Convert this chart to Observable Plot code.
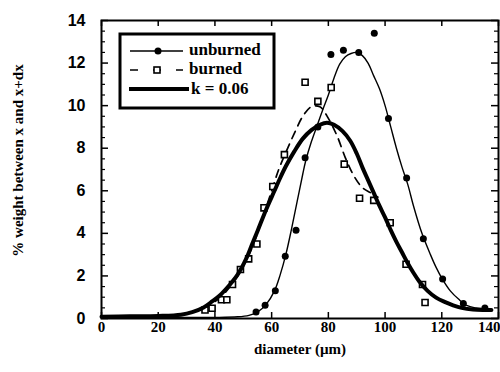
<!DOCTYPE html>
<html>
<head>
<meta charset="utf-8">
<script src="https://cdn.jsdelivr.net/npm/d3@7"></script>
<script src="https://cdn.jsdelivr.net/npm/@observablehq/plot@0.6"></script>
<style>
  html, body { margin: 0; padding: 0; background: #fff; }
  #chart { width: 500px; height: 372px; }
</style>
</head>
<body>
<div id="chart"></div>
<script>
// ---- data ----
const xTicks = [0, 20, 40, 60, 80, 100, 120, 140];
const yTicks = [0, 2, 4, 6, 8, 10, 12, 14];
const yMinorTicks = [0.5,1,1.5,2.5,3,3.5,4.5,5,5.5,6.5,7,7.5,8.5,9,9.5,10.5,11,11.5,12.5,13,13.5];

const xLabel = "diameter (µm)";
const yLabel = "% weight between x and x+dx";
const legendLabels = ["unburned", "burned", "k = 0.06"];

// unburned measured points (filled circles)
const unburnedX = [54.5, 57.7, 61.3, 64.8, 68.6, 71.8, 76.3, 80.9, 85.3, 90.7, 96.2, 101.2, 107.6, 113.5, 120.3, 127.6, 135.2];
const unburnedY = [0.3, 0.62, 1.3, 2.92, 4.15, 7.55, 9.0, 12.4, 12.6, 12.5, 13.4, 9.4, 6.6, 3.75, 1.85, 0.7, 0.49];

// burned measured points (open squares)
const burnedX = [36.5, 39.0, 42.3, 44.2, 46.2, 49.0, 51.9, 54.8, 57.3, 60.4, 64.5, 71.8, 76.3, 81.0, 85.6, 91.0, 96.0, 101.8, 107.4, 113.2, 114.1];
const burnedY = [0.4, 0.48, 0.88, 0.88, 1.6, 2.3, 2.8, 3.5, 5.2, 6.2, 7.7, 11.1, 10.2, 10.85, 7.25, 5.65, 5.55, 4.5, 2.55, 1.6, 0.75];

// unburned fitted curve (thin solid)
const unburnedFitX = [0, 20, 40, 48, 52, 55, 58, 61, 63, 65, 67, 69, 71, 72, 74, 76, 78, 80, 82, 84, 86, 88, 90, 92, 94, 96, 98, 100, 102, 104, 106, 108, 110, 113, 116, 118, 120, 123, 126, 129, 132, 135, 137.5];
const unburnedFitY = [0.05, 0.05, 0.05, 0.08, 0.15, 0.3, 0.65, 1.3, 2.05, 3.0, 4.2, 5.5, 6.8, 7.4, 8.3, 9.05, 9.8, 10.5, 11.3, 11.95, 12.3, 12.45, 12.5, 12.35, 12.0, 11.4, 10.8, 10.0, 9.0, 8.0, 7.1, 6.3, 5.3, 4.0, 3.0, 2.4, 1.9, 1.3, 0.9, 0.6, 0.5, 0.45, 0.4];

// burned fitted curve (dashed)
const burnedFitX = [36, 42, 48, 53, 57, 60, 62.5, 65, 68, 71, 74, 77, 80, 83, 86, 89, 92, 95, 97.5];
const burnedFitY = [0.45, 1.0, 2.0, 3.3, 4.8, 6.0, 7.0, 7.8, 8.7, 9.5, 9.95, 9.95, 9.4, 8.6, 7.55, 6.7, 6.15, 5.9, 5.7];

// model k = 0.06 (thick solid)
const modelX = [0, 10, 20, 28, 32, 36, 39, 42, 45, 48, 51, 53, 55, 58, 61, 63, 65, 68, 71, 74, 77, 79.5, 82, 85, 87.7, 90, 92, 94, 96, 98, 100, 102, 104, 106, 108, 110, 112, 115, 118, 121, 124, 127, 131, 135, 137.5];
const modelY = [0.08, 0.1, 0.12, 0.18, 0.3, 0.52, 0.8, 1.12, 1.55, 2.06, 2.8, 3.45, 4.1, 5.1, 6.0, 6.6, 7.15, 7.85, 8.45, 8.85, 9.1, 9.2, 9.1, 8.8, 8.35, 7.75, 7.1, 6.5, 5.9, 5.3, 4.75, 4.15, 3.6, 3.1, 2.6, 2.15, 1.75, 1.3, 0.98, 0.78, 0.62, 0.5, 0.42, 0.4, 0.4];

// ---- tables built from the arrays ----
const zip = (xs, ys) => xs.map((x, i) => ({x, y: ys[i]}));
const unburned = zip(unburnedX, unburnedY);
const burned = zip(burnedX, burnedY);
const unburnedFit = zip(unburnedFitX, unburnedFitY);
const burnedFit = zip(burnedFitX, burnedFitY);
const model = zip(modelX, modelY);

const serif = "'Liberation Serif', 'Times New Roman', serif";
const sans = "'Liberation Sans', Arial, sans-serif";
const xTicksInner = xTicks.slice(0, -1);
const xTickLast = xTicks.slice(-1);

const chart = Plot.plot({
  width: 500,
  height: 372,
  marginLeft: 101,
  marginRight: 2,
  marginTop: 20,
  marginBottom: 54,
  x: {domain: [0, 140], axis: null},
  y: {domain: [0, 14], axis: null},
  style: {background: "white", color: "black"},
  marks: [
    // inward ticks
    Plot.ruleY(yTicks, {y: d => d, x1: 0, x2: 0, insetRight: -7, stroke: "black", strokeWidth: 1.5}),
    Plot.ruleY(yMinorTicks, {y: d => d, x1: 0, x2: 0, insetRight: -4, stroke: "black", strokeWidth: 1.2}),
    Plot.ruleY(yTicks, {y: d => d, x1: 140, x2: 140, insetLeft: -7, stroke: "black", strokeWidth: 1.5}),
    Plot.ruleY(yMinorTicks, {y: d => d, x1: 140, x2: 140, insetLeft: -4, stroke: "black", strokeWidth: 1.2}),
    Plot.ruleX(xTicks, {x: d => d, y1: 14, y2: 14, insetBottom: -6, stroke: "black", strokeWidth: 1.5}),
    Plot.ruleX(xTicks, {x: d => d, y1: 0, y2: 0, insetTop: -6, stroke: "black", strokeWidth: 1.5}),
    // tick labels
    Plot.axisY({anchor: "left", ticks: yTicks, tickSize: 0, tickPadding: 16, label: null,
      fontSize: 16, fontWeight: "bold", fontFamily: sans}),
    Plot.text(xTicksInner, {x: d => d, frameAnchor: "bottom", dy: 13, text: d => String(d),
      fontSize: 15, fontWeight: "bold", fontFamily: serif}),
    Plot.text(xTickLast, {x: d => d, frameAnchor: "bottom", dy: 13, dx: 2, textAnchor: "end", text: d => String(d),
      fontSize: 15, fontWeight: "bold", fontFamily: serif}),
    // curves
    Plot.line(unburnedFit, {x: "x", y: "y", curve: "catmull-rom", stroke: "black", strokeWidth: 1.4}),
    Plot.line(burnedFit, {x: "x", y: "y", curve: "catmull-rom", stroke: "black", strokeWidth: 1.7, strokeDasharray: "8,6"}),
    Plot.dot(burned, {x: "x", y: "y", symbol: "square", r: 3.4, fill: "white", stroke: "black", strokeWidth: 1.6}),
    Plot.line(model, {x: "x", y: "y", curve: "catmull-rom", stroke: "black", strokeWidth: 4}),
    Plot.dot(unburned, {x: "x", y: "y", r: 3.5, fill: "black"}),
    Plot.frame({stroke: "black", strokeWidth: 2}),
    // axis titles
    Plot.text([xLabel], {frameAnchor: "bottom", dy: 35, text: d => d, fontSize: 15, fontWeight: "bold", fontFamily: serif}),
    Plot.text([yLabel], {frameAnchor: "left", dx: -83, dy: -9, rotate: -90, textAnchor: "middle", text: d => d,
      fontSize: 15, fontWeight: "bold", fontFamily: serif})
  ]
});

document.getElementById("chart").appendChild(chart);

// legend inside the frame
const svg = d3.select(chart);
const lg = svg.append("g").attr("class", "legend").attr("text-anchor", "start");
lg.append("rect").attr("x", 120).attr("y", 34).attr("width", 154).attr("height", 74)
  .attr("fill", "white").attr("stroke", "black").attr("stroke-width", 3);
// row 1 unburned
lg.append("line").attr("x1", 130).attr("x2", 183).attr("y1", 51).attr("y2", 51).attr("stroke", "black").attr("stroke-width", 1.4);
lg.append("circle").attr("cx", 158).attr("cy", 51).attr("r", 3.5).attr("fill", "black");
// row 2 burned
lg.append("line").attr("x1", 130).attr("x2", 183).attr("y1", 70).attr("y2", 70).attr("stroke", "black").attr("stroke-width", 1.7).attr("stroke-dasharray", "8,15,8,15");
lg.append("rect").attr("x", 154).attr("y", 67).attr("width", 6).attr("height", 6).attr("fill", "white").attr("stroke", "black").attr("stroke-width", 1.6);
// row 3 model
lg.append("line").attr("x1", 129).attr("x2", 189).attr("y1", 89).attr("y2", 89).attr("stroke", "black").attr("stroke-width", 4);
const ty = [55, 74, 94];
const tx = [189, 189, 191];
legendLabels.forEach((t, i) => {
  lg.append("text").attr("x", tx[i]).attr("y", ty[i]).attr("text-anchor", "start").text(t)
    .attr("font-family", serif).attr("font-size", 17).attr("font-weight", "bold").attr("fill", "black");
});
</script>
</body>
</html>
